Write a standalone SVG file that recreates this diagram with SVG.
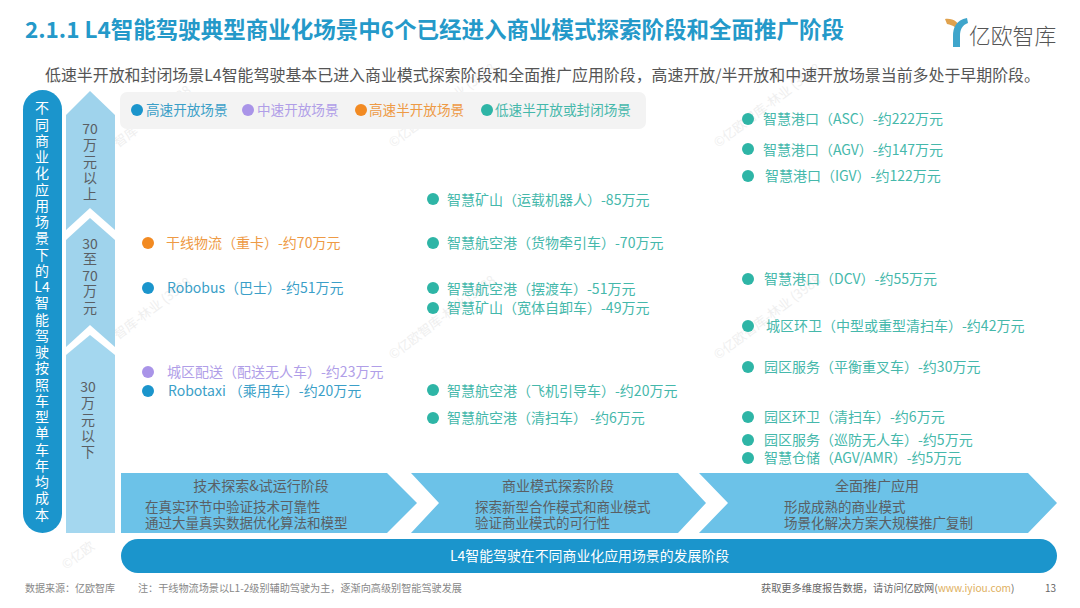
<svg xmlns="http://www.w3.org/2000/svg" width="1080" height="608" viewBox="0 0 1080 608">
<defs><style>
text{font-family:"Noto Sans CJK SC","Noto Sans",sans-serif}
.i{font-size:14px}
.l{font-size:13.6px}
.b{fill:#1b95cc}.p{fill:#a994e8}.o{fill:#f28a22}.g{fill:#2eb5a6}
text.b{fill:#3b9fc8}text.p{fill:#b09ee8}text.o{fill:#ee9a45}text.g{fill:#45b8ab}
.v{font-size:14px;text-anchor:middle;fill:#5a5f64}
.w{font-size:14px;text-anchor:middle;fill:#fff}
.vt{writing-mode:vertical-rl;text-orientation:upright;letter-spacing:2.25px;text-anchor:start}
.d{font-size:13.5px;fill:#5a5f64}
.h{font-size:14px;fill:#5a5f64;text-anchor:middle}
.wm{font-size:13px;fill:#efefef}
</style></defs>
<rect width="1080" height="608" fill="#fff"/>
<g id="watermarks">
<text class="wm" transform="translate(118 148) rotate(-37)">智库-林业 (3988</text>
<text class="wm" transform="translate(393 148) rotate(-37)">©亿欧智库-林业 (3988</text>
<text class="wm" transform="translate(718 148) rotate(-37)">©亿欧智库-林业 (3988</text>
<text class="wm" transform="translate(118 340) rotate(-37)">智库-林业 (3988</text>
<text class="wm" transform="translate(393 360) rotate(-37)">©亿欧智库-林业 (3988</text>
<text class="wm" transform="translate(718 360) rotate(-37)">©亿欧智库-林业 (3988</text>
<text class="wm" transform="translate(66 570) rotate(-37)">©亿欧</text>
<text class="wm" transform="translate(393 570) rotate(-37)">©亿欧</text>
<text class="wm" transform="translate(718 570) rotate(-37)">©亿欧</text>
</g>
<g id="title-block">
<text id="title" x="25" y="37.500" font-size="22.5" font-weight="700" fill="#2499c9">2.1.1 L4智能驾驶典型商业化场景中6个已经进入商业模式探索阶段和全面推广阶段</text>
<text id="subtitle" x="45" y="80.500" font-size="15.93" fill="#555">低速半开放和封闭场景L4智能驾驶基本已进入商业模式探索阶段和全面推广应用阶段，高速开放/半开放和中速开放场景当前多处于早期阶段。</text>
</g>
<g id="logo">
<path d="M945 19 C953 18 959 22 960 29 L960 34 C958 28 953 25 947 24Z" fill="#e0a24e"/>
<path d="M953 47 V36 C953 28 956 20 967 18 L968 23 C962 25 960 30 960 36 V47Z" fill="#3fa5cb"/>
<text x="969" y="44" font-size="21.8" font-weight="300" fill="#555">亿欧智库</text>
</g>
<g id="axis-label">
<rect x="23" y="90" width="39" height="443" rx="19.5" fill="#1b95cc"/>
<text class="w vt" x="42" y="101">不同商业化应用场景下的</text>
<text class="w" x="42" y="292">L4</text>
<text class="w vt" x="42" y="296">智能驾驶按照车型单车年均成本</text>
</g>
<g id="cost-bands">
<path d="M66 115 L90 91 L115 115 L115 230 L90 208 L66 230Z" fill="#9fd3ec"/>
<path d="M66 240 L90 218 L115 240 L115 347 L90 325 L66 347Z" fill="#9fd3ec"/>
<path d="M66 355 L90 335 L115 355 L115 533 L66 533Z" fill="#a4d7ef"/>
<text class="v" x="90" y="134">70</text>
<text class="v vt" x="90" y="138">万元以上</text>
<text class="v" x="90" y="249">30</text>
<text class="v vt" x="90" y="252">至</text>
<text class="v" x="90" y="281">70</text>
<text class="v vt" x="90" y="284">万元</text>
<text class="v" x="88" y="392">30</text>
<text class="v vt" x="88" y="396">万元以下</text>
</g>
<g id="legend">
<rect x="120" y="92" width="526" height="37" rx="7" fill="#f3f3f3"/>
<circle class="b" cx="137" cy="110" r="6"/><text class="l b" x="146" y="115">高速开放场景</text>
<circle class="p" cx="248" cy="110" r="6"/><text class="l p" x="257" y="115">中速开放场景</text>
<circle class="o" cx="361" cy="110" r="6"/><text class="l o" x="369" y="115">高速半开放场景</text>
<circle class="g" cx="487" cy="110" r="6"/><text class="l g" x="495" y="115">低速半开放或封闭场景</text>
</g>
<g id="col-1">
<circle class="o" cx="148" cy="243" r="6"/><text class="i o" x="166" y="248">干线物流（重卡）-约70万元</text>
<circle class="b" cx="148" cy="288" r="6"/><text class="i b" x="167" y="293">Robobus（巴士）-约51万元</text>
<circle class="p" cx="148" cy="372" r="6"/><text class="i p" x="167" y="377">城区配送（配送无人车）-约23万元</text>
<circle class="b" cx="148" cy="391" r="6"/><text class="i b" x="168" y="396">Robotaxi （乘用车）-约20万元</text>
</g>
<g id="col-2">
<circle class="g" cx="433" cy="199" r="6"/><text class="i g" x="447" y="205">智慧矿山（运载机器人）-85万元</text>
<circle class="g" cx="433" cy="243" r="6"/><text class="i g" x="447" y="248">智慧航空港（货物牵引车）-70万元</text>
<circle class="g" cx="433" cy="288" r="6"/><text class="i g" x="447" y="294">智慧航空港（摆渡车）-51万元</text>
<circle class="g" cx="433" cy="308" r="6"/><text class="i g" x="447" y="313">智慧矿山（宽体自卸车）-49万元</text>
<circle class="g" cx="433" cy="390" r="6"/><text class="i g" x="447" y="396">智慧航空港（飞机引导车）-约20万元</text>
<circle class="g" cx="433" cy="418" r="6"/><text class="i g" x="447" y="423">智慧航空港（清扫车） -约6万元</text>
</g>
<g id="col-3">
<circle class="g" cx="748" cy="119" r="6"/><text class="i g" x="763" y="124">智慧港口（ASC）-约222万元</text>
<circle class="g" cx="748" cy="149" r="6"/><text class="i g" x="763" y="154.500">智慧港口（AGV）-约147万元</text>
<circle class="g" cx="748" cy="176" r="6"/><text class="i g" x="765" y="180.500">智慧港口（IGV）-约122万元</text>
<circle class="g" cx="748" cy="279" r="6"/><text class="i g" x="764" y="284">智慧港口（DCV）-约55万元</text>
<circle class="g" cx="748" cy="326" r="6"/><text class="i g" x="766" y="330.500">城区环卫（中型或重型清扫车）-约42万元</text>
<circle class="g" cx="748" cy="367" r="6"/><text class="i g" x="764" y="372">园区服务（平衡重叉车）-约30万元</text>
<circle class="g" cx="748" cy="417" r="6"/><text class="i g" x="764" y="422">园区环卫（清扫车）-约6万元</text>
<circle class="g" cx="748" cy="440" r="6"/><text class="i g" x="764" y="445">园区服务（巡防无人车）-约5万元</text>
<circle class="g" cx="748" cy="458" r="6"/><text class="i g" x="764" y="462.500">智慧仓储（AGV/AMR）-约5万元</text>
</g>
<g id="stage-1">
<path d="M121 473 H387 L417 503 L387 533 H121Z" fill="#6cc2e8"/>
<text class="h" x="261" y="491">技术探索&amp;试运行阶段</text>
<text class="d" x="145" y="512">在真实环节中验证技术可靠性</text>
<text class="d" x="145" y="528">通过大量真实数据优化算法和模型</text>
</g>
<g id="stage-2">
<path d="M411 473 H678 L706 503 L678 533 H411L439 503Z" fill="#6cc2e8"/>
<text class="h" x="558" y="491">商业模式探索阶段</text>
<text class="d" x="475" y="512">探索新型合作模式和商业模式</text>
<text class="d" x="475" y="528">验证商业模式的可行性</text>
</g>
<g id="stage-3">
<path d="M699 473 H1028 L1057 503 L1028 533 H699L728 503Z" fill="#6cc2e8"/>
<text class="h" x="877" y="491">全面推广应用</text>
<text class="d" x="784" y="512">形成成熟的商业模式</text>
<text class="d" x="784" y="528">场景化解决方案大规模推广复制</text>
</g>
<g id="x-axis-label">
<rect x="121" y="539" width="936" height="34" rx="17" fill="#1b95cc"/>
<text x="450" y="561" font-size="13.9" fill="#fff">L4智能驾驶在不同商业化应用场景的发展阶段</text>
</g>
<g id="footer">
<text x="25" y="592" font-size="10" fill="#888">数据来源：亿欧智库</text>
<text x="138" y="592" font-size="10.15" fill="#888">注：干线物流场景以L1-2级别辅助驾驶为主，逐渐向高级别智能驾驶发展</text>
<text x="761" y="592" font-size="10.2" fill="#666">获取更多维度报告数据，请访问亿欧网(<tspan fill="#e0b060">www.iyiou.com</tspan>)</text>
<text x="1045" y="592" font-size="10" fill="#666">13</text>
</g>
</svg>
